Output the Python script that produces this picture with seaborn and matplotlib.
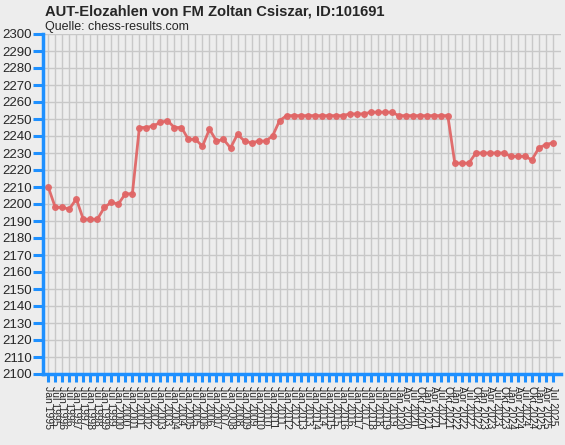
"""AUT-Elozahlen Verlauf (chess-results.com) nachgebaut"""
import matplotlib
matplotlib.use('Agg')
import matplotlib.pyplot as plt
import seaborn as sns

#Listen (halbjaehrlich bis 2019, danach vierteljaehrlich)
months = ['Jan 1995', 'Jul 1995', 'Jan 1996', 'Jul 1996', 'Jan 1997', 'Jul 1997',
          'Jan 1998', 'Jul 1998', 'Jan 1999', 'Jul 1999', 'Jan 2000', 'Jul 2000',
          'Jan 2001', 'Jul 2001', 'Jan 2002', 'Jul 2002', 'Jan 2003', 'Jul 2003',
          'Jan 2004', 'Jul 2004', 'Jan 2005', 'Jul 2005', 'Jan 2006', 'Jul 2006',
          'Jan 2007', 'Jul 2007', 'Jan 2008', 'Jul 2008', 'Jan 2009', 'Jul 2009',
          'Jan 2010', 'Jul 2010', 'Jan 2011', 'Jul 2011', 'Jan 2012', 'Jul 2012',
          'Jan 2013', 'Jul 2013', 'Jan 2014', 'Jul 2014', 'Jan 2015', 'Jul 2015',
          'Jan 2016', 'Jul 2016', 'Jan 2017', 'Jul 2017', 'Jan 2018', 'Jul 2018',
          'Jan 2019', 'Jul 2019',
          'Jan 2020', 'Apr 2020', 'Jul 2020', 'Okt 2020',
          'Jan 2021', 'Apr 2021', 'Jul 2021', 'Okt 2021',
          'Jan 2022', 'Apr 2022', 'Jul 2022', 'Okt 2022',
          'Jan 2023', 'Apr 2023', 'Jul 2023', 'Okt 2023',
          'Jan 2024', 'Apr 2024', 'Jul 2024', 'Okt 2024',
          'Jan 2025', 'Apr 2025', 'Jul 2025']

elo = [2210, 2198, 2198, 2197, 2203, 2191, 2191, 2191, 2198, 2201,
       2200, 2206, 2206, 2245, 2245, 2246, 2248, 2249, 2245, 2245,
       2238, 2238, 2234, 2244, 2237, 2238, 2233, 2241, 2237, 2236,
       2237, 2237, 2240, 2249, 2252, 2252, 2252, 2252, 2252, 2252,
       2252, 2252, 2252, 2253, 2253, 2253, 2254, 2254, 2254, 2254,
       2252, 2252, 2252, 2252, 2252, 2252, 2252, 2252, 2224, 2224,
       2224, 2230, 2230, 2230, 2230, 2230, 2228, 2228, 2228, 2226,
       2233, 2235, 2236]

y_ticks = list(range(2100, 2301, 10))

bg = '#EDEDED'
blue = '#1E90FF'
sns.set_style('whitegrid', {'axes.facecolor': bg, 'figure.facecolor': bg,
                            'grid.color': '#C8C8C8', 'axes.edgecolor': blue})
plt.rcParams['font.family'] = ['Liberation Sans', 'DejaVu Sans']

fig = plt.figure(figsize=(5.65, 4.45), dpi=100)
ax = fig.add_axes([43/565, 1-374/445, (561-43)/565, (374-34)/445])

positions = list(range(len(months)))
sns.lineplot(x=positions, y=elo, ax=ax, color='#E06666', linewidth=2.0,
             marker='o', markersize=5, markeredgewidth=0, alpha=0.95)

ax.set_xlim(-0.75, len(months) - 1 + 1.15)
ax.set_ylim(2100, 2300)
ax.set_xticks(positions)
ax.set_xticklabels(months, rotation=-90, fontsize=7.5)
ax.set_yticks(y_ticks)
ax.set_yticklabels([str(v) for v in y_ticks], fontsize=9.5)
ax.grid(True, color='#C8C8C8', linewidth=1)

#Achsen: nur links und unten, blau
for side in ['top', 'right']:
    ax.spines[side].set_visible(False)
for side in ['left', 'bottom']:
    ax.spines[side].set_color(blue)
    ax.spines[side].set_linewidth(2.5)
ax.tick_params(axis='y', left=True, direction='out', length=7, width=2.2, color=blue, pad=1)
ax.tick_params(axis='x', bottom=True, direction='out', length=6, width=2.2, color=blue, pad=3)

fig.text(45/565, 1-12/445, 'AUT-Elozahlen von FM Zoltan Csiszar, ID:101691',
         fontsize=10.6, fontweight='bold', va='center', ha='left')
fig.text(45/565, 1-27/445, 'Quelle: chess-results.com', fontsize=9,
         va='center', ha='left')

fig.savefig('out.png', dpi=100, facecolor=bg)
